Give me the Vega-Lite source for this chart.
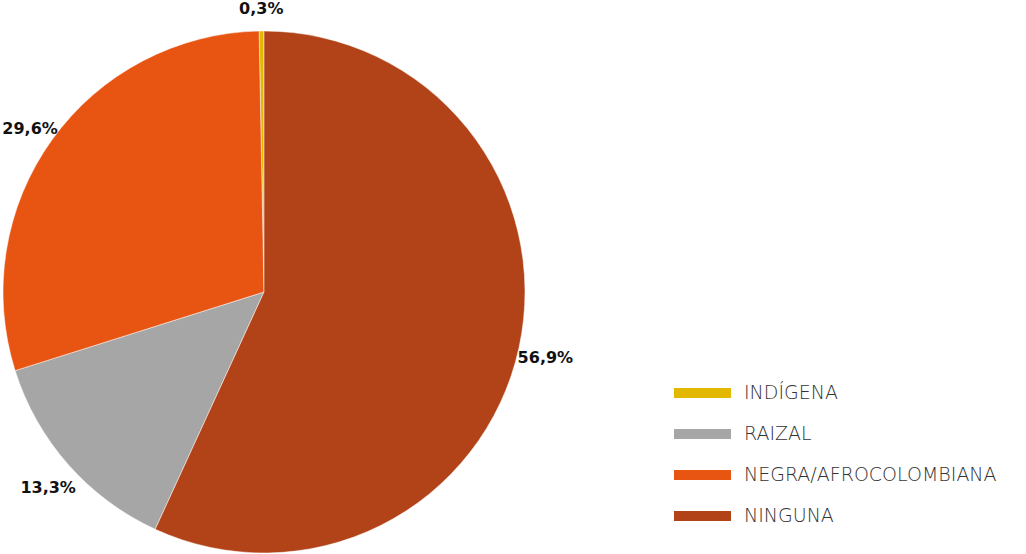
{
  "$schema": "https://vega.github.io/schema/vega-lite/v6.json",
  "autosize": {"type": "none"},
  "width": 528,
  "height": 554,
  "padding": {"left": 0, "top": 15, "right": 498, "bottom": 0},
  "background": "white",
  "view": {"stroke": null},
  "data": {
    "values": [
      {"grupo": "INDÍGENA", "valor": 0.3, "etiqueta": "0,3%", "orden": 4},
      {"grupo": "RAIZAL", "valor": 13.3, "etiqueta": "13,3%", "orden": 2},
      {"grupo": "NEGRA/AFROCOLOMBIANA", "valor": 29.6, "etiqueta": "29,6%", "orden": 3},
      {"grupo": "NINGUNA", "valor": 56.9, "etiqueta": "56,9%", "orden": 1}
    ]
  },
  "encoding": {
    "theta": {"field": "valor", "type": "quantitative", "stack": true},
    "order": {"field": "orden", "type": "quantitative"}
  },
  "layer": [
    {
      "mark": {"type": "arc", "outerRadius": 261, "stroke": "white", "strokeWidth": 0.5},
      "encoding": {
        "color": {
          "field": "grupo",
          "type": "nominal",
          "scale": {
            "domain": ["INDÍGENA", "RAIZAL", "NEGRA/AFROCOLOMBIANA", "NINGUNA"],
            "range": ["#E3B800", "#A6A6A6", "#E85412", "#B24217"]
          },
          "legend": {
            "title": null,
            "orient": "none",
            "legendX": 674,
            "legendY": 368,
            "symbolType": "M-1,-0.175L1,-0.175L1,0.175L-1,0.175Z",
            "symbolSize": 3249,
            "symbolStrokeWidth": 0,
            "symbolOpacity": 1,
            "clipHeight": 20,
            "rowPadding": 21,
            "labelOffset": 13,
            "labelFont": "DejaVu Sans",
            "labelFontSize": 19,
            "labelFontWeight": 300,
            "labelColor": "#333333",
            "labelLimit": 400
          }
        }
      }
    },
    {
      "mark": {"type": "text", "radius": 288, "dy": 5, "fontSize": 16, "fontWeight": "bold", "font": "DejaVu Sans", "color": "#111111"},
      "encoding": {"text": {"field": "etiqueta", "type": "nominal"}}
    }
  ]
}
